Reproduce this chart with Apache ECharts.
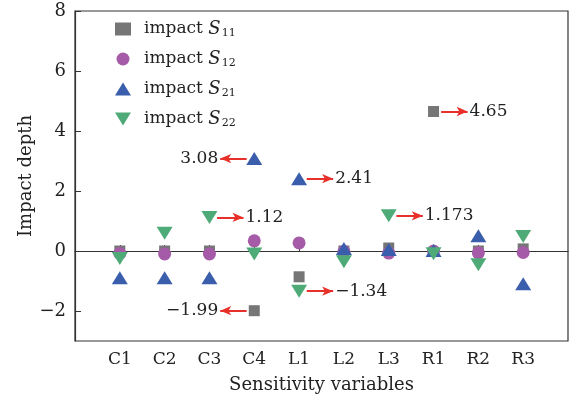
<!DOCTYPE html>
<html>
<head>
<meta charset="utf-8">
<style>
  html, body { margin: 0; padding: 0; background: #fff; }
  #chart { width: 574px; height: 399px; }
</style>
<script src="https://cdn.jsdelivr.net/npm/echarts@6/dist/echarts.min.js"></script>
</head>
<body>
<div id="chart"></div>
<script>
// Sensitivity variables on the horizontal axis
const categories = ['C1', 'C2', 'C3', 'C4', 'L1', 'L2', 'L3', 'R1', 'R2', 'R3'];

// Impact depth of each variable on S11, S12, S21, S22
const s11 = [0, 0, 0, -1.99, -0.86, 0, 0.1, 4.65, 0, 0.07];
const s12 = [-0.08, -0.1, -0.1, 0.34, 0.27, -0.02, -0.07, 0, -0.06, -0.05];
const s21 = [-0.89, -0.89, -0.89, 3.08, 2.41, 0.08, 0.05, 0.02, 0.51, -1.09];
const s22 = [-0.25, 0.59, 1.12, -0.1, -1.34, -0.36, 1.173, -0.09, -0.46, 0.48];

// Tick labels of the vertical axis
const yTicks = [-2, 0, 2, 4, 6, 8];

// Points that carry an arrow with their value written next to it
const callouts = [
  { key: 'S21', index: 3, side: -1 },
  { key: 'S22', index: 2, side: 1 },
  { key: 'S11', index: 3, side: -1 },
  { key: 'S21', index: 4, side: 1 },
  { key: 'S11', index: 7, side: 1 },
  { key: 'S22', index: 6, side: 1 },
  { key: 'S22', index: 4, side: 1 }
];

const FONT = 'DejaVu Serif';
const INK = '#222';
const minus = s => String(s).replace('-', '\u2212');

const seriesDefs = [
  { key: 'S11', sub: '11', values: s11, symbol: 'rect', size: 11, color: '#767676' },
  { key: 'S12', sub: '12', values: s12, symbol: 'circle', size: 13, color: '#a55ba8' },
  { key: 'S21', sub: '21', values: s21, symbol: 'triangle', size: [16, 13], color: '#3a5eab' },
  { key: 'S22', sub: '22', values: s22, symbol: 'path://M0,0 L2,0 L1,1.6 Z', size: [16, 13], color: '#4eab78' }
];

function arrowsFor(def) {
  const list = callouts.filter(c => c.key === def.key).map(c => {
    const x = c.index + 1;
    const y = def.values[c.index];
    return [
      { coord: [x + c.side * 0.17, y] },
      { coord: [x + c.side * 0.76, y], label: { formatter: minus(y) } }
    ];
  });
  if (!list.length) return undefined;
  return {
    silent: true,
    animation: false,
    symbol: ['none', 'arrow'],
    symbolSize: [7, 11],
    lineStyle: { color: '#e8302b', width: 2, type: 'solid' },
    itemStyle: { color: '#e8302b' },
    label: {
      show: true,
      position: 'end',
      distance: 2,
      fontFamily: FONT,
      fontSize: 17,
      color: INK
    },
    data: list
  };
}

const series = seriesDefs.map(def => ({
  name: def.key,
  type: 'scatter',
  symbol: def.symbol,
  symbolSize: def.size,
  itemStyle: { color: def.color, opacity: 1 },
  data: def.values.map((v, i) => [i + 1, v]),
  markLine: arrowsFor(def),
  animation: false
}));

const subOf = {};
seriesDefs.forEach(d => { subOf[d.key] = d.sub; });

const chart = echarts.init(document.getElementById('chart'), null, { renderer: 'canvas' });
chart.setOption({
  backgroundColor: '#fff',
  animation: false,
  grid: {
    left: 75, right: 6, top: 11, bottom: 56,
    show: true, borderColor: '#333', borderWidth: 1.2, backgroundColor: 'transparent'
  },
  legend: {
    orient: 'vertical',
    left: 110,
    top: 15,
    itemWidth: 16,
    itemHeight: 13,
    itemGap: 11,
    data: seriesDefs.map(d => d.key),
    formatter: name => '{n|impact }{i|S}{sub|' + subOf[name] + '}',
    textStyle: {
      color: INK,
      rich: {
        n: { fontFamily: FONT, fontSize: 17, lineHeight: 20, color: INK, padding: [0, 0, 0, 8] },
        i: { fontFamily: FONT, fontSize: 18, lineHeight: 20, fontStyle: 'italic', color: INK },
        sub: { fontFamily: FONT, fontSize: 11, lineHeight: 11, color: INK, verticalAlign: 'bottom', padding: [0, 0, 0, 1] }
      }
    }
  },
  xAxis: {
    type: 'value',
    min: 0,
    max: 11,
    name: 'Sensitivity variables',
    nameLocation: 'middle',
    nameGap: 35,
    nameMoveOverlap: false,
    nameTextStyle: { fontFamily: FONT, fontSize: 18, color: INK },
    axisLine: { show: true, lineStyle: { color: '#333', width: 1.2 } },
    axisTick: { show: true, inside: true, length: 6, lineStyle: { color: '#333' }, customValues: categories.map((c, i) => i + 1) },
    axisLabel: {
      customValues: categories.map((c, i) => i + 1),
      formatter: v => categories[Math.round(v) - 1] || '',
      fontFamily: FONT, fontSize: 17, color: INK, margin: 10
    },
    splitLine: { show: false }
  },
  yAxis: {
    type: 'value',
    min: -3,
    max: 8,
    name: 'Impact depth',
    nameLocation: 'middle',
    nameGap: 40,
    nameMoveOverlap: false,
    nameTextStyle: { fontFamily: FONT, fontSize: 18, color: INK },
    axisLine: { show: true, lineStyle: { color: '#333', width: 1.2 } },
    axisTick: { show: true, inside: true, length: 6, lineStyle: { color: '#333' }, customValues: yTicks },
    axisLabel: {
      customValues: yTicks,
      formatter: v => minus(v),
      fontFamily: FONT, fontSize: 18, color: INK, margin: 9
    },
    splitLine: { show: false }
  },
  series: series
});
</script>
</body>
</html>
